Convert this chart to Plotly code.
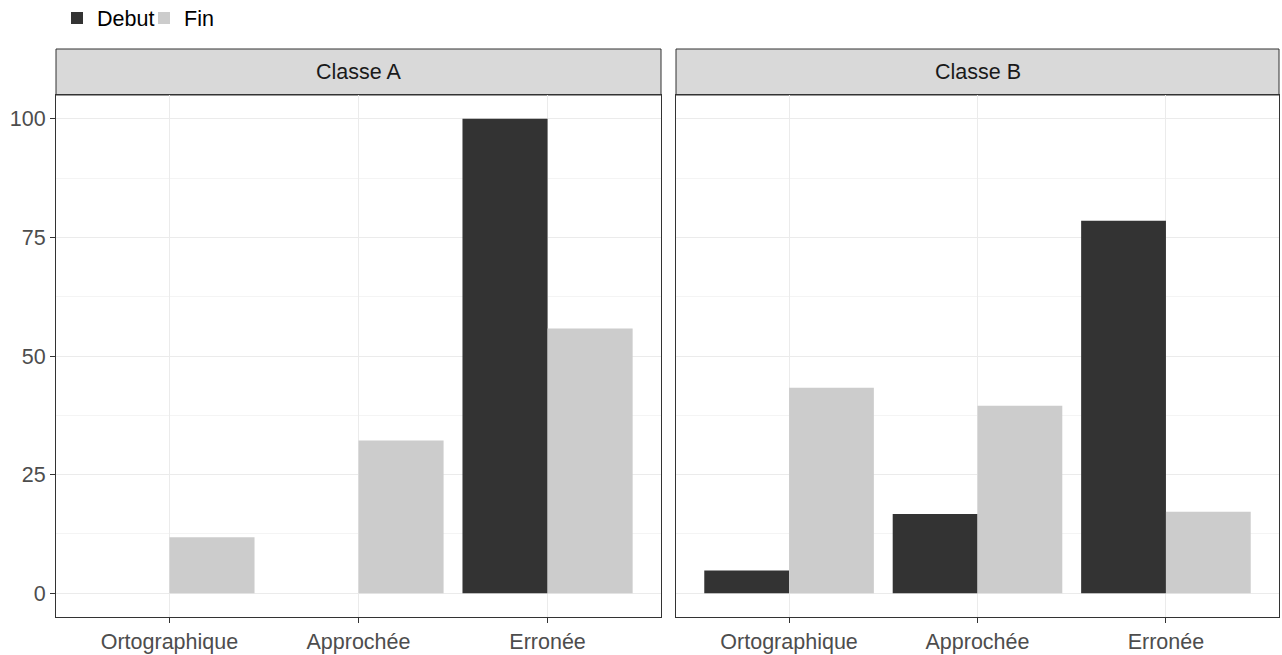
import plotly.graph_objects as go

categories = ["Ortographique", "Approchée", "Erronée"]
panels = ["Classe A", "Classe B"]
debut_A = [0, 0, 100]
fin_A = [11.8, 32.2, 55.8]
debut_B = [4.8, 16.7, 78.5]
fin_B = [43.3, 39.5, 17.2]
y_ticks = [0, 25, 50, 75, 100]

W, H = 1282, 655
ml, mr, mt, mb = 56, 3, 95, 38
pw = W - ml - mr
ph = H - mt - mb

def px_x(p):
    return (p - ml) / pw

def px_y(p):
    return (H - mb - p) / ph

FONT = "Liberation Sans, Arial, sans-serif"
FS = 21.5
COL_DEBUT = "#333333"
COL_FIN = "#cccccc"

fig = go.Figure()
data = [(debut_A, fin_A, "x", "y"), (debut_B, fin_B, "x2", "y2")]
for i, (d, f, xa, ya) in enumerate(data):
    fig.add_trace(go.Bar(x=categories, y=d, name="Debut", marker_color=COL_DEBUT,
                         xaxis=xa, yaxis=ya, showlegend=(i == 0), legendgroup="Debut",
                         marker_line_width=0, offsetgroup="d"))
    fig.add_trace(go.Bar(x=categories, y=f, name="Fin", marker_color=COL_FIN,
                         xaxis=xa, yaxis=ya, showlegend=(i == 0), legendgroup="Fin",
                         marker_line_width=0, offsetgroup="f"))

dom1 = [0, px_x(661)]
dom2 = [px_x(676), 1]

common_x = dict(type="category", range=[-0.6, 2.6], showgrid=True, gridcolor="#ebebeb",
                gridwidth=1, showline=True, mirror=True, linecolor="#333333", linewidth=1,
                ticks="outside", ticklen=5, tickcolor="#333333", tickwidth=1,
                tickfont=dict(family=FONT, size=FS, color="#4d4d4d"), zeroline=False,
                fixedrange=True, automargin=False)
common_y = dict(range=[-5, 105], tickvals=y_ticks, showgrid=True, gridcolor="#ebebeb",
                gridwidth=1, showline=True, mirror=True, linecolor="#333333", linewidth=1,
                zeroline=False, fixedrange=True, automargin=False,
                minor=dict(tickvals=[12.5, 37.5, 62.5, 87.5], showgrid=True,
                           gridcolor="#f4f4f4", gridwidth=1, ticks=""))

fig.update_layout(
    width=W, height=H,
    margin=dict(l=ml, r=mr, t=mt, b=mb, autoexpand=False),
    plot_bgcolor="white", paper_bgcolor="white",
    barmode="group", bargap=0.1, bargroupgap=0,
    font=dict(family=FONT, size=FS, color="#000000"),
    xaxis=dict(domain=dom1, anchor="y", **common_x),
    xaxis2=dict(domain=dom2, anchor="y2", **common_x),
    yaxis=dict(anchor="x", ticks="outside", ticklen=5, tickcolor="#333333",
               tickfont=dict(family=FONT, size=FS, color="#4d4d4d"), **common_y),
    yaxis2=dict(anchor="x2", matches="y", showticklabels=False, ticks="", **common_y),
    legend=dict(orientation="h", x=px_x(57), xanchor="left", y=px_y(18), yanchor="middle",
                font=dict(family=FONT, size=FS, color="#000000"),
                bgcolor="rgba(0,0,0,0)", traceorder="normal", entrywidth=42),
)

strip_top = px_y(49)
for dom, label in [(dom1, panels[0]), (dom2, panels[1])]:
    fig.add_shape(type="rect", xref="paper", yref="paper", x0=dom[0], x1=dom[1],
                  y0=1, y1=strip_top, fillcolor="#d9d9d9",
                  line=dict(color="#333333", width=1), layer="below")
    fig.add_annotation(xref="paper", yref="paper", x=(dom[0] + dom[1]) / 2,
                       y=(1 + strip_top) / 2, text=label, showarrow=False,
                       font=dict(family=FONT, size=FS, color="#1a1a1a"),
                       xanchor="center", yanchor="middle")

fig.write_html("out.html", config={"displayModeBar": False},
               post_script="document.body.style.margin='0';")
